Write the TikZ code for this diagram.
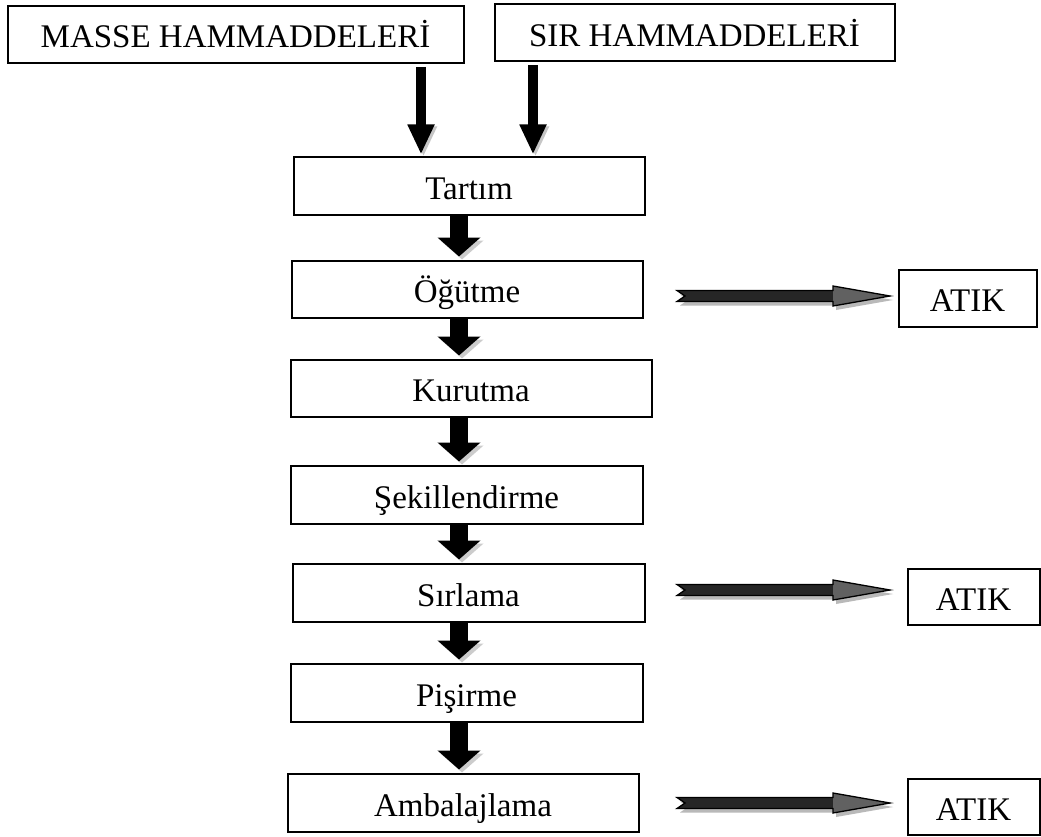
\documentclass[tikz,border=0pt]{standalone}
\usepackage{fontspec}
\setmainfont{Liberation Serif}
\usetikzlibrary{arrows.meta,calc}
\tikzset{
  box/.style={draw=black, line width=2pt, fill=white, inner sep=0pt,
    text height=27pt, text depth=0pt,
    font=\fontsize{33}{39}\selectfont},
  bigdown/.style={line width=18pt, draw=black,
    -{Triangle[width=42pt,length=19pt]}, shorten >=3pt,
    preaction={draw=gray!40, transform canvas={shift={(3pt,-3pt)}}}},
  topdown/.style={line width=9.5pt, draw=black,
    -{Triangle[width=25pt,length=30pt]}, shorten <=3pt, shorten >=2pt,
    preaction={draw=gray!45, transform canvas={shift={(2.5pt,-2pt)}}}},
  waste/.pic={
    \fill[gray!55] (3,-1.5) -- (159,-1.5) -- (159,-6) -- (216,4) -- (159,14)
      -- (159,9.5) -- (3,9.5) -- (11,4) -- cycle;
    \fill[black!85] (0,-5.5) -- (156,-5.5) -- (156,5.5) -- (0,5.5) -- (8,0) -- cycle;
    \fill[black!62] (156,-10) -- (213,0) -- (156,10) -- cycle;
    \draw[black, line width=1.3pt, line join=miter]
      (0,-5.5) -- (156,-5.5) -- (156,-10) -- (213,0) -- (156,10)
      -- (156,5.5) -- (0,5.5) -- (8,0) -- cycle;
  }
}
\begin{document}
\begin{tikzpicture}[x=1pt,y=-1pt]
\useasboundingbox[fill=white] (0,0) rectangle (1041,837);

% top boxes
\node[box, minimum width=456pt, minimum height=57pt] (masse) at (235.5,34.5) {MASSE HAMMADDELERİ};
\node[box, minimum width=400pt, minimum height=57pt] (sir) at (694.5,33) {SIR HAMMADDELERİ};

% process boxes
\node[box, minimum width=351pt, minimum height=58pt] (tartim) at (469,186.5) {Tartım};
\node[box, minimum width=351pt, minimum height=57pt] (ogutme) at (467,289) {Öğütme};
\node[box, minimum width=361pt, minimum height=57pt] (kurutma) at (471,388) {Kurutma};
\node[box, minimum width=352pt, minimum height=58pt] (sekil) at (466.5,494.5) {Şekillendirme};
\node[box, minimum width=352pt, minimum height=58pt] (sirlama) at (468.5,592.5) {Sırlama};
\node[box, minimum width=352pt, minimum height=58pt] (pisirme) at (466.5,692.5) {Pişirme};
\node[box, minimum width=351pt, minimum height=58pt] (ambalaj) at (463,802.5) {Ambalajlama};

% waste boxes
\node[box, minimum width=138pt, minimum height=57pt] (atik1) at (967.5,298) {ATIK};
\node[box, minimum width=132pt, minimum height=56pt] (atik2) at (973.5,596.5) {ATIK};
\node[box, minimum width=132pt, minimum height=56pt] (atik3) at (973.5,806.5) {ATIK};

% column coordinates
\coordinate (colm) at (421,0);
\coordinate (cols) at (533,0);
\coordinate (col) at (459,0);

% top arrows
\draw[topdown] (masse.south -| colm) -- (tartim.north -| colm);
\draw[topdown] (sir.south -| cols) -- (tartim.north -| cols);

% process arrows
\draw[bigdown] (tartim.south -| col) -- (ogutme.north -| col);
\draw[bigdown] (ogutme.south -| col) -- (kurutma.north -| col);
\draw[bigdown] (kurutma.south -| col) -- (sekil.north -| col);
\draw[bigdown] (sekil.south -| col) -- (sirlama.north -| col);
\draw[bigdown] (sirlama.south -| col) -- (pisirme.north -| col);
\draw[bigdown] (pisirme.south -| col) -- (ambalaj.north -| col);

% waste arrows
\coordinate (w1) at (677,296);
\coordinate (w2) at (677,590);
\coordinate (w3) at (677,803);
\pic at (w1) {waste};
\pic at (w2) {waste};
\pic at (w3) {waste};
\end{tikzpicture}
\end{document}
